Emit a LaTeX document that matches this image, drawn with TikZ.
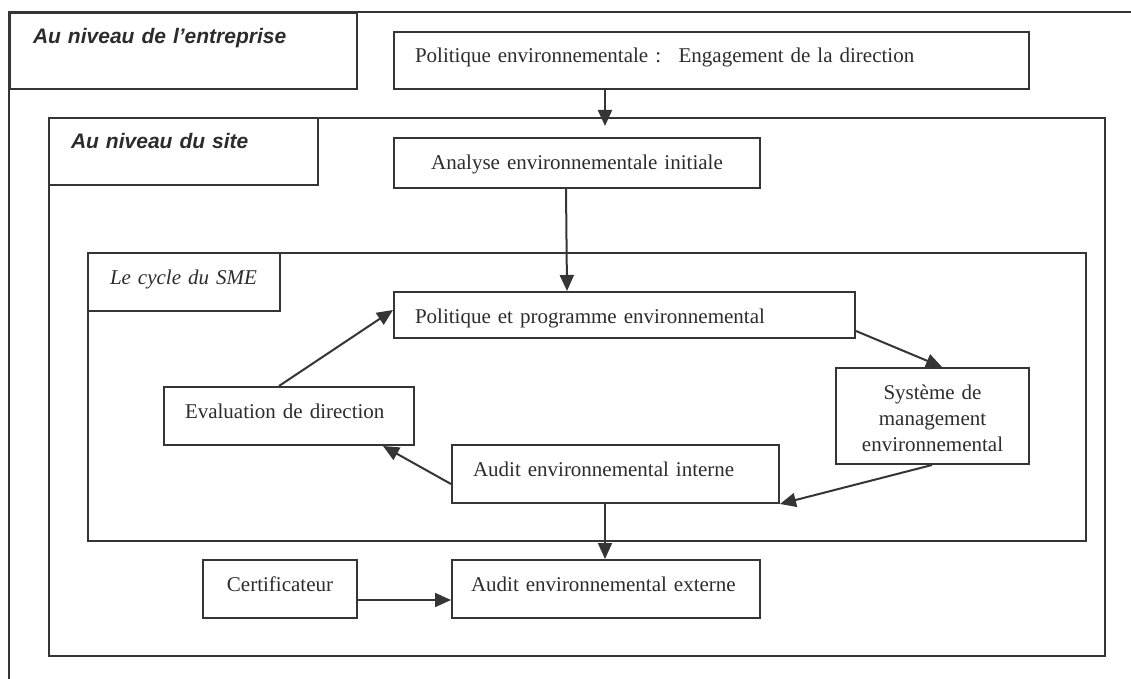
\documentclass[tikz,border=0pt]{standalone}
\usepackage{fontspec}
\setmainfont{Liberation Serif}
\setsansfont{Liberation Sans}
\usetikzlibrary{arrows.meta}
\definecolor{trait}{HTML}{353535}
\definecolor{texte}{HTML}{2C2C2C}

\begin{document}
\begin{tikzpicture}[x=1pt,y=-1pt,
		boite/.style={draw=trait,line width=2pt,rectangle,anchor=north west,inner ysep=0pt,
			text height=31pt,text=texte,font=\fontsize{21}{26}\selectfont},
		gauche/.style={boite,align=left,inner xsep=21pt},
		centre/.style={boite,align=center,inner xsep=0pt},
		titre/.style={boite,align=left,inner xsep=23pt,font=\fontsize{21}{26}\selectfont\sffamily\bfseries\itshape},
		cadre/.style={draw=trait,line width=2pt,rectangle,anchor=north west,inner sep=0pt},
		fleche/.style={draw=trait,line width=2pt,-{Triangle[length=16pt,width=14pt]}}]
		\useasboundingbox (0,0) rectangle (1131,679);

		% niveau entreprise
		\coordinate (hg) at (9,12);
		\draw[trait,line width=2pt] (9,679) -- (hg) -- (1131,12);
		\node[titre,text width=301pt,text depth=45pt]		(entreprise)	at (hg)			{Au niveau de l’entreprise};
		\node[gauche,text width=593pt,text depth=26pt]		(pol)			at (393,31)		{Politique environnementale :~ Engagement de la direction};

		% niveau site
		\node[cadre,minimum width=1056pt,minimum height=538pt]	(site)		at (48,117)		{};
		\node[titre,inner xsep=22pt,text width=225pt,text depth=36pt]	(sitelbl)	at (site.north west)	{Au niveau du site};
		\node[centre,text width=366pt,text depth=19pt]		(analyse)		at (393,137)	{Analyse environnementale initiale};

		% cycle du SME
		\node[cadre,minimum width=998pt,minimum height=288pt]	(cycle)		at (87,252)		{};
		\node[boite,align=left,inner xsep=22pt,text width=148pt,text depth=27pt,
			font=\fontsize{21}{26}\selectfont\itshape]	(cyclelbl)	at (cycle.north west)	{Le cycle du SME};
		\node[gauche,text width=419pt,text depth=15pt]		(polprog)		at (393,291)	{Politique et programme environnemental};
		\node[centre,text width=193pt,text depth=65pt]		(sme)			at (835,367)	{Système de\\management\\environnemental};
		\node[gauche,text width=208pt,text depth=27pt]		(eval)			at (163,386)	{Evaluation de direction};
		\node[gauche,text width=285pt,text depth=27pt]		(auditint)		at (451,444)	{Audit environnemental interne};

		% audit externe
		\node[centre,text width=154pt,text depth=27pt]		(cert)			at (202,559)	{Certificateur};
		\node[gauche,inner xsep=19pt,text width=270pt,text depth=27pt]	(auditext)	at (451,559)	{Audit environnemental externe};

		\coordinate (sitein) at (605,126);
		\draw[fleche] ([xshift=212pt]pol.south west) -- (sitein);
		\draw[fleche] ([xshift=173pt]analyse.south west) -- ([xshift=174pt]polprog.north west);
		\draw[fleche] ([yshift=8pt]polprog.south east) -- ([xshift=107pt]sme.north west);
		\draw[fleche] ([xshift=97pt]sme.south west) -- (auditint.south east);
		\draw[fleche] ([yshift=20pt]auditint.south west) -- ([xshift=220pt]eval.south west);
		\draw[fleche] ([xshift=116pt]eval.north west) -- ([yshift=-19pt]polprog.north west);
		\draw[fleche] ([xshift=154pt]auditint.south west) -- ([xshift=154pt]auditext.north west);
		\draw[fleche] ([yshift=19pt]cert.south east) -- ([yshift=19pt]auditext.south west);
	\end{tikzpicture}
\end{document}
